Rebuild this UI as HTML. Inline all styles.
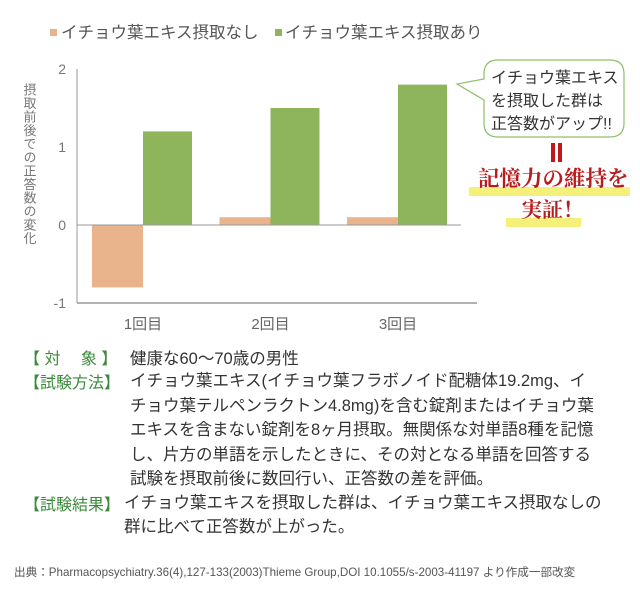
<!DOCTYPE html>
<html><head><meta charset="utf-8"><style>
body{margin:0;background:#fff;width:640px;height:597px;overflow:hidden;font-family:"Liberation Sans","Noto Sans CJK JP",sans-serif;position:relative}
.t{position:absolute;white-space:nowrap}
.body{font-size:16.5px;color:#333}
.lab{color:#3a8a3a;font-size:16px}
</style></head><body>
<svg width="640" height="340" style="position:absolute;left:0;top:0" font-family="Liberation Sans, Noto Sans CJK JP, sans-serif">
<g>
<rect x="50" y="29" width="7" height="7" fill="#e9b48c"/>
<text x="61" y="38" font-size="16.5" fill="#555">イチョウ葉エキス摂取なし</text>
<rect x="275" y="29" width="7" height="7" fill="#8fb55c"/>
<text x="285" y="38" font-size="16.5" fill="#555">イチョウ葉エキス摂取あり</text>
</g>
<text font-size="13" fill="#777" writing-mode="tb" x="29" y="83" letter-spacing="0.5">摂取前後での正答数の変化</text>
<g id="plot"></g>
<g>
<path d="M498,60 H610 Q624,60 624,74 V123 Q624,137 610,137 H498 Q484,137 484,123 V100 L457,84 L484,79 V74 Q484,60 498,60 Z" fill="#fff" stroke="#8fbf6a" stroke-width="1.2"/>
<text x="491" y="83" font-size="16" fill="#333">イチョウ葉エキス</text>
<text x="491" y="106" font-size="16" fill="#333">を摂取した群は</text>
<text x="491" y="129" font-size="16" fill="#333">正答数がアップ!!</text>
</g>
<rect x="551" y="143" width="4" height="19" fill="#c0181c"/><rect x="558" y="143" width="4" height="19" fill="#c0181c"/>
<rect x="469" y="187" width="161" height="9" fill="#f5f07a"/>
<rect x="506" y="218" width="75" height="9" fill="#f5f07a"/>
<text x="478" y="186" font-size="21.5" font-weight="bold" fill="#b81c1c" font-family="Liberation Serif, Noto Serif CJK SC, serif">記憶力の維持を</text>
<text x="521" y="217" font-size="21" font-weight="bold" fill="#b81c1c" font-family="Liberation Serif, Noto Serif CJK SC, serif">実証！</text>
</svg>
<script>
const categories=["1回目","2回目","3回目"];
const seriesWithout=[-0.8,0.1,0.1];
const seriesWith=[1.2,1.5,1.8];
const yTicks=[-1,0,1,2];
const NS="http://www.w3.org/2000/svg";
const g=document.getElementById('plot');
const y=v=>225-v*78;
const cx=i=>143+i*127.5;
function mk(t,a){const e=document.createElementNS(NS,t);for(const k in a)e.setAttribute(k,a[k]);g.appendChild(e);return e;}
yTicks.forEach(v=>{const t=mk('text',{x:66,y:y(v)+5,'font-size':14,fill:'#777','text-anchor':'end'});t.textContent=v;

});
categories.forEach((c,i)=>{
const b1=mk('rect',{x:cx(i)-51,y:Math.min(y(0),y(seriesWithout[i])),width:51,height:Math.abs(y(seriesWithout[i])-y(0)),fill:'#e9b48c'});


const b2=mk('rect',{x:cx(i),y:Math.min(y(0),y(seriesWith[i])),width:49,height:Math.abs(y(seriesWith[i])-y(0)),fill:'#8fb55c'});


const t=mk('text',{x:cx(i),y:329,'font-size':15,fill:'#666','text-anchor':'middle'});t.textContent=c;


});
mk('line',{x1:77,y1:y(2),x2:77,y2:y(-1),stroke:'#999','stroke-width':1});
mk('line',{x1:77,y1:y(0),x2:461,y2:y(0),stroke:'#999','stroke-width':1});
mk('line',{x1:77,y1:y(-1),x2:477,y2:y(-1),stroke:'#999','stroke-width':1.5});
</script>
<div>
<div class="t lab" style="left:24px;top:345px">【 対　 象 】</div>
<div class="t body" style="left:130px;top:345px">健康な60〜70歳の男性</div>
<div class="t lab" style="left:24px;top:369px">【試験方法】</div>
<div class="t body" style="left:130px;top:369px;line-height:24.5px">イチョウ葉エキス(イチョウ葉フラボノイド配糖体19.2mg、イ<br>チョウ葉テルペンラクトン4.8mg)を含む錠剤またはイチョウ葉<br>エキスを含まない錠剤を8ヶ月摂取。無関係な対単語8種を記憶<br>し、片方の単語を示したときに、その対となる単語を回答する<br>試験を摂取前後に数回行い、正答数の差を評価。</div>
<div class="t lab" style="left:24px;top:491px">【試験結果】</div>
<div class="t body" style="left:124px;top:491px;line-height:24px">イチョウ葉エキスを摂取した群は、イチョウ葉エキス摂取なしの<br>群に比べて正答数が上がった。</div>
<div class="t" style="left:14px;top:564px;font-size:11.6px;color:#555">出典：Pharmacopsychiatry.36(4),127-133(2003)Thieme Group,DOI 10.1055/s-2003-41197 より作成一部改変</div>
</div>
</body></html>
